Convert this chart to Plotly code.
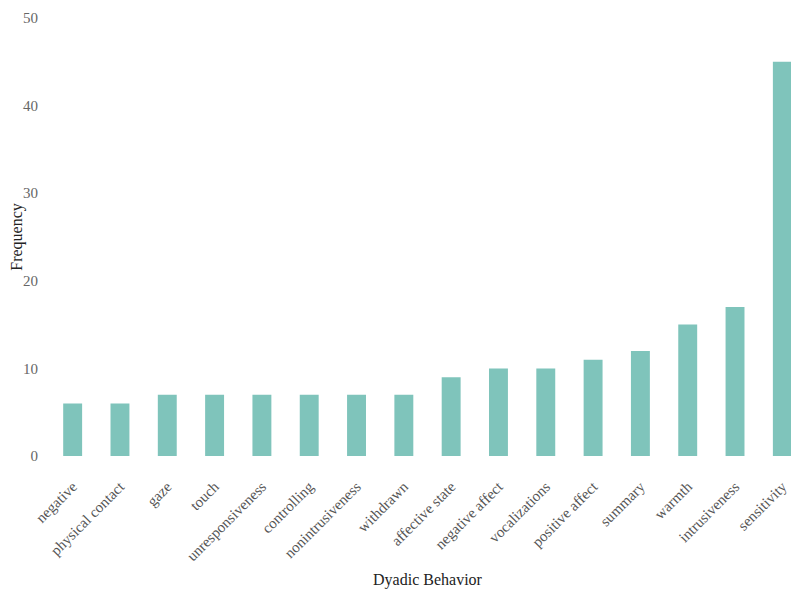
import plotly.graph_objects as go

categories = ["negative", "physical contact", "gaze", "touch", "unresponsiveness",
              "controlling", "nonintrusiveness", "withdrawn", "affective state",
              "negative affect", "vocalizations", "positive affect", "summary",
              "warmth", "intrusiveness", "sensitivity"]
frequency = [6, 6, 7, 7, 7, 7, 7, 7, 9, 10, 10, 11, 12, 15, 17, 45]

FONT = "Liberation Serif, DejaVu Serif, serif"

fig = go.Figure(go.Bar(
    x=categories, y=frequency,
    marker=dict(color="#7fc4bb", line=dict(width=0)),
    width=0.4,
))

fig.update_layout(
    width=799, height=602,
    margin=dict(l=41, r=1, t=10, b=154),
    plot_bgcolor="white", paper_bgcolor="white",
    font=dict(family=FONT, size=15, color="#222"),
    showlegend=False,
)
fig.update_xaxes(
    title=dict(text="Dyadic Behavior", font=dict(family=FONT, size=16, color="#222"), standoff=10),
    tickangle=-45, tickfont=dict(family=FONT, size=15, color="#555"),
    showgrid=False, showline=False, zeroline=False, ticks="",
    ticklabelstandoff=18, ticklabeloverflow="allow",
    range=[-0.5, 15.5], automargin=False,
)
fig.update_yaxes(
    title=dict(text="Frequency", font=dict(family=FONT, size=16, color="#222"), standoff=12),
    tickfont=dict(family=FONT, size=15, color="#666"),
    range=[0, 50], tickvals=[0, 10, 20, 30, 40, 50],
    showgrid=False, showline=False, zeroline=False, ticks="",
    ticklabelstandoff=10, ticklabeloverflow="allow",
    automargin=False,
)

fig.write_html("out.html")
